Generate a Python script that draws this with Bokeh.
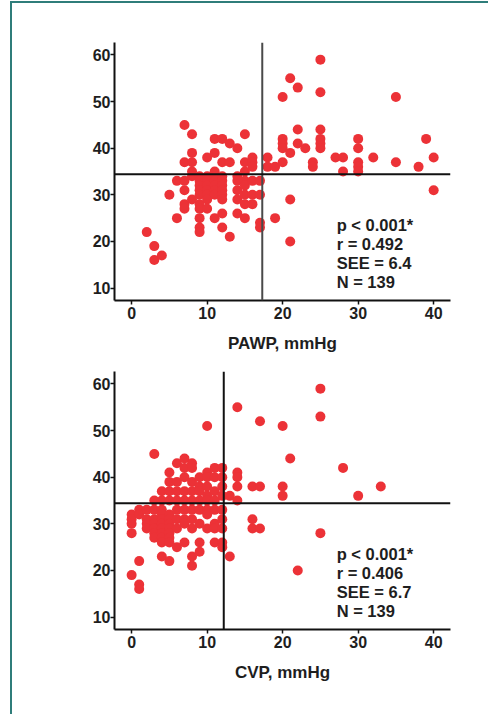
import math
from bokeh.plotting import figure
from bokeh.models import Span, Label, FixedTicker
from bokeh.layouts import column
from bokeh.embed import file_html
from bokeh.resources import INLINE
from bokeh.core.properties import value

# ---------------- data ----------------
# Panel A: PAWP (mmHg) vs ReDS
pawp_x = [2, 3, 3, 4, 5, 6, 6,
          7, 7, 7, 7, 7, 7,
          8, 8, 8, 8, 8, 8,
          9, 9, 9, 9, 9, 9, 9, 9, 9, 9,
          10, 10, 10, 10, 10, 10, 10, 10,
          11, 11, 11, 11, 11, 11, 11, 11, 11,
          12, 12, 12, 12, 12, 12, 12, 12, 12, 12,
          13, 13, 13,
          14, 14, 14, 14, 14, 14,
          15, 15, 15, 15, 15, 15, 15, 15,
          16, 16, 16, 16, 16, 16,
          17, 17, 17, 17,
          18, 18, 19, 19,
          20, 20, 20, 20, 20,
          21, 21, 21, 21,
          22, 22, 22, 23, 24, 24,
          25, 25, 25, 25, 25, 25,
          27, 28, 28,
          30, 30, 30, 30, 30,
          32, 35, 35, 38, 39, 40, 40]
pawp_reds = [22, 19, 16, 17, 30, 33, 25,
             45, 37, 33, 31, 28, 27,
             43, 39, 37, 35, 34, 29,
             34, 33, 32, 31, 30, 28, 27, 25, 23, 22,
             38, 34, 33, 32, 31, 30, 29, 27,
             42, 39, 35, 34, 33, 32, 31, 30, 25,
             42, 37, 34, 33, 32, 31, 30, 29, 26, 23,
             41, 37, 21,
             40, 34, 33, 31, 29, 26,
             43, 37, 35, 33, 32, 30, 28, 25,
             38, 37, 36, 33, 30, 28,
             33, 30, 24, 23,
             38, 36, 36, 25,
             51, 42, 41, 40, 37,
             55, 39, 29, 20,
             53, 44, 41, 40, 37, 36,
             59, 52, 44, 42, 41, 40,
             38, 38, 35,
             42, 40, 37, 36, 35,
             38, 51, 37, 36, 42, 38, 31]

# Panel B: CVP (mmHg) vs ReDS
cvp_x = [0, 0, 0, 0, 0,
         1, 1, 1, 1, 1,
         2, 2, 2, 2,
         3, 3, 3, 3, 3, 3, 3, 3,
         4, 4, 4, 4, 4, 4, 4, 4, 4, 4, 4,
         5, 5, 5, 5, 5, 5, 5, 5, 5, 5, 5, 5,
         6, 6, 6, 6, 6, 6, 6, 6,
         7, 7, 7, 7, 7, 7, 7, 7, 7,
         8, 8, 8, 8, 8, 8, 8, 8, 8, 8,
         9, 9, 9, 9, 9, 9, 9, 9,
         10, 10, 10, 10, 10, 10, 10, 10, 10,
         11, 11, 11, 11, 11, 11, 11, 11,
         12, 12, 12, 12, 12, 12, 12, 12, 12,
         13, 13,
         14, 14, 14, 14, 14,
         16, 16, 16,
         17, 17, 17,
         20, 20, 20,
         21, 22,
         25, 25, 25,
         28, 30, 33]
cvp_reds = [32, 31, 30, 28, 19,
            33, 32, 22, 17, 16,
            33, 31, 30, 29,
            45, 35, 33, 31, 30, 29, 28, 27,
            37, 35, 33, 32, 31, 30, 29, 28, 27, 26, 23,
            41, 39, 37, 35, 32, 31, 30, 29, 28, 27, 26, 22,
            43, 39, 37, 35, 33, 31, 29, 25,
            44, 42, 40, 37, 35, 33, 31, 30, 26,
            43, 42, 39, 37, 35, 33, 31, 29, 23, 21,
            40, 38, 37, 35, 33, 30, 26, 24,
            51, 41, 40, 38, 36, 35, 33, 32, 29,
            42, 40, 37, 35, 33, 30, 29, 26,
            42, 40, 38, 36, 33, 31, 29, 26, 25,
            36, 23,
            55, 41, 40, 38, 35,
            38, 31, 29,
            52, 38, 29,
            51, 38, 36,
            44, 20,
            59, 53, 28,
            42, 36, 38]

x_ticks = [0, 10, 20, 30, 40]
y_ticks = [10, 20, 30, 40, 50, 60]

panel_labels = ["A", "B"]
x_titles = ["PAWP, mmHg", "CVP, mmHg"]
y_title = "ReDS"
stats_a = ["p < 0.001*", "r = 0.492", "SEE = 6.4", "N = 139"]
stats_b = ["p < 0.001*", "r = 0.406", "SEE = 6.7", "N = 139"]
cut_x = [17.3, 12.2]
cut_y = [34.4, 34.4]

# ---------------- styling ----------------
FONT = "Liberation Sans"
TXT = "#1e1e1e"
RED = "#EC3237"
XR = (-2.27, 42.23)
YR = (7.33, 62.68)


def make_panel(xs, ys, xlabel, stats, label, vx, hy, vcolor, top, bottom, height,
               ylab_y, lab_y):
    p = figure(width=476, height=height, x_range=XR, y_range=YR,
               output_backend="svg", toolbar_location=None,
               min_border_left=102, min_border_right=38,
               min_border_top=top, min_border_bottom=bottom)
    p.outline_line_color = None
    p.xgrid.visible = False
    p.ygrid.visible = False
    p.background_fill_color = "white"
    p.border_fill_color = "white"

    for ax in (p.xaxis[0], p.yaxis[0]):
        ax.axis_line_width = 2
        ax.axis_line_color = "#111111"
        ax.major_tick_line_width = 1.5
        ax.major_tick_line_color = "#111111"
        ax.major_tick_in = 0
        ax.major_tick_out = 4
        ax.minor_tick_line_color = None
        ax.major_label_text_font = FONT
        ax.major_label_text_font_style = "bold"
        ax.major_label_text_font_size = "16px"
        ax.major_label_text_color = TXT
        ax.axis_label_text_font = FONT
        ax.axis_label_text_font_style = "bold"
        ax.axis_label_text_font_size = "17px"
        ax.axis_label_text_color = TXT
    p.xaxis.ticker = FixedTicker(ticks=x_ticks)
    p.yaxis.ticker = FixedTicker(ticks=y_ticks)
    p.xaxis.axis_label = xlabel
    p.xaxis.major_label_standoff = 2
    p.yaxis.major_label_standoff = 0
    p.xaxis.axis_label_standoff = 12

    p.scatter(xs, ys, size=10, fill_color=RED, line_color=None)

    p.add_layout(Span(location=vx, dimension="height", line_color=vcolor, line_width=2))
    p.add_layout(Span(location=hy, dimension="width", line_color="#111111", line_width=2))

    p.text(x=[27.15] * len(stats), y=[23.6 - 4.07 * i for i in range(len(stats))],
           text=stats, text_font=value(FONT), text_font_style="bold",
           text_font_size="16.5px", text_color=TXT,
           text_align="left", text_baseline="middle")

    # y axis title, placed like the original (slightly below the frame centre)
    p.add_layout(Label(x=-7.42, y=ylab_y, text=y_title, angle=math.pi / 2,
                       text_font=FONT, text_font_style="bold", text_font_size="16px",
                       text_color=TXT, text_align="center", text_baseline="middle"))

    p.add_layout(Label(x=-7.8, y=lab_y, text=label, text_font=FONT,
                       text_font_style="bold", text_font_size="11px",
                       text_color=TXT, text_align="center", text_baseline="middle"))
    return p


pa = make_panel(pawp_x, pawp_reds, x_titles[0], stats_a, panel_labels[0],
                cut_x[0], cut_y[0], "#4a4a4a", 39, 55, 352, 33.8, 60.9)
pb = make_panel(cvp_x, cvp_reds, x_titles[1], stats_b, panel_labels[1],
                cut_x[1], cut_y[1], "#111111", 16, 85, 359, 34.6, 62.5)

layout = column(pa, pb, spacing=0,
                styles={"border-top": "2px solid #2f7d7a",
                        "border-left": "2px solid #2f7d7a",
                        "margin-left": "10px",
                        "margin-top": "1px"})

open("out.html", "w").write(file_html(layout, INLINE))
